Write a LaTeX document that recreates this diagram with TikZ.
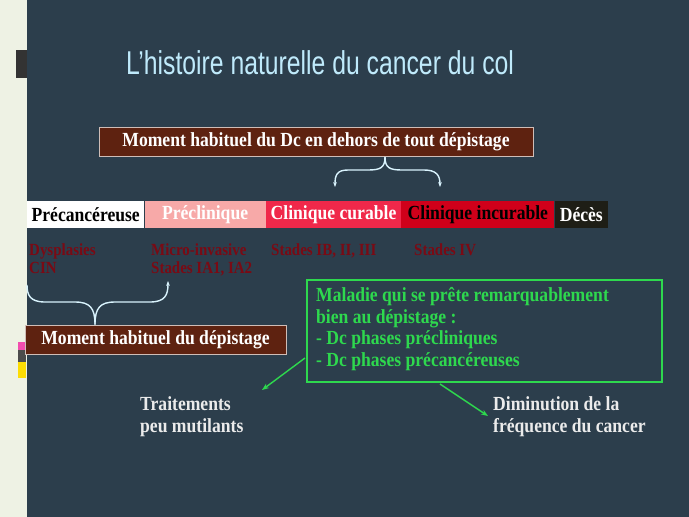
\documentclass[tikz,border=0pt]{standalone}
\usepackage{fontspec}
\setmainfont[FakeStretch=0.88]{Liberation Serif}
\newfontfamily\titlefont{Liberation Sans}
\usetikzlibrary{arrows.meta}
\definecolor{bg}{HTML}{2C3E4C}
\definecolor{brn}{HTML}{5E2210}
\definecolor{stred}{HTML}{7A0A14}
\definecolor{grn}{HTML}{2ED84E}
\definecolor{strip}{HTML}{EEF2E4}
\begin{document}
\begin{tikzpicture}[x=1pt,y=-1pt,
  lbl/.style={font=\bfseries\fontsize{20}{22}\selectfont},
  brownbox/.style={lbl,fill=brn,draw=white!70!brn,line width=0.6pt,text=white,inner sep=4pt},
  seg/.style={lbl,minimum height=27pt,inner sep=2pt,anchor=west},
  stage/.style={font=\bfseries\fontsize{17}{18}\selectfont,text=stred,anchor=north west,align=left,inner sep=0pt},
  wt/.style={font=\bfseries\fontsize{20}{22}\selectfont,text=white!92!black,anchor=north west,align=left,inner sep=0pt},
  br/.style={draw=white!85!cyan,line width=1.4pt,-{Stealth[length=5pt]}},
  ga/.style={draw=grn,line width=1.4pt,-{Stealth[length=7pt]}}]
\useasboundingbox (0,0) rectangle (689,517);
\fill[bg] (0,0) rectangle (689,517);
\fill[strip] (0,0) rectangle (27,517);
\fill[black!80] (16,50) rectangle (27,78);
\fill[magenta!70] (18,342) rectangle (26,350);
\fill[black!70] (18,350) rectangle (26,362);
\fill[yellow!80!orange] (18,362) rectangle (26,378);
\node[font=\titlefont\fontsize{33}{36}\selectfont,text=cyan!25!white,xscale=0.75] (title) at (320,63) {L’histoire naturelle du cancer du col};
\node[brownbox,minimum width=434pt,minimum height=29pt] (top) at (316,141.5) {Moment habituel du Dc en dehors de tout dépistage};
% bar
\node[seg,fill=white,text=black,minimum width=117pt] (s1) at (27,214.5) {Précancéreuse};
\node[seg,fill={rgb,255:red,247;green,169;blue,168},text=white,minimum width=121pt] (s2) at (s1.east) {Préclinique};
\node[seg,fill={rgb,255:red,240;green,40;blue,74},text=white,minimum width=135pt] (s3) at (s2.east) {Clinique curable};
\node[seg,fill={rgb,255:red,208;green,0;blue,26},text=black,minimum width=153pt] (s4) at (s3.east) {Clinique incurable};
\node[seg,fill={rgb,255:red,30;green,30;blue,22},text=white,minimum width=53pt] (s5) at (s4.east) {Décès};
% stages
\node[stage] (d1) at (29,244) {Dysplasies\\CIN};
\node[stage] (d2) at (151,244) {Micro-invasive\\Stades IA1, IA2};
\node[stage] (d3) at (271,244) {Stades IB, II, III};
\node[stage] (d4) at (414,244) {Stades IV};
% top brace
\coordinate (tb) at (385,157);
\coordinate (tl) at (335,187);
\coordinate (tr) at (440,187);
\draw[br] (tb) .. controls (385,168) and (380,170) .. (368,170) -- (348,170) .. controls (337,170) and (335,175) .. (tl);
\draw[br] (tb) .. controls (385,168) and (390,170) .. (402,170) -- (424,170) .. controls (436,170) and (440,175) .. (tr);
% bottom box and brace
\node[brownbox,minimum width=261pt,minimum height=29pt] (bot) at (155.5,339.5) {Moment habituel du dépistage};
\coordinate (bl) at (27,285);
\coordinate (bright) at (168,281);
\draw[br,-] (bot.north -| 95,0) .. controls (95,308) and (90,302) .. (75,302) -- (45,302) .. controls (30,302) and (27,295) .. (bl);
\draw[br] (bot.north -| 95,0) .. controls (95,308) and (100,302) .. (115,302) -- (150,302) .. controls (165,302) and (168,295) .. (bright);
% green box
\draw[grn,line width=2.2pt] (307,280) rectangle (662,382);
\node[font=\bfseries\fontsize{20}{21.7}\selectfont,text=grn,anchor=north west,align=left,inner sep=0pt] (gtxt) at (316,287)
 {Maladie qui se prête remarquablement\\bien au dépistage :\\- Dc phases précliniques\\- Dc phases précancéreuses};
\coordinate (g1) at (305,358);
\coordinate (g2) at (440,384);
\node[wt] (t1) at (140,396) {Traitements\\peu mutilants};
\node[wt] (t2) at (493,396) {Diminution de la\\fréquence du cancer};
\draw[ga] (g1) -- (262,390);
\draw[ga] (g2) -- (488,416);
\end{tikzpicture}
\end{document}
